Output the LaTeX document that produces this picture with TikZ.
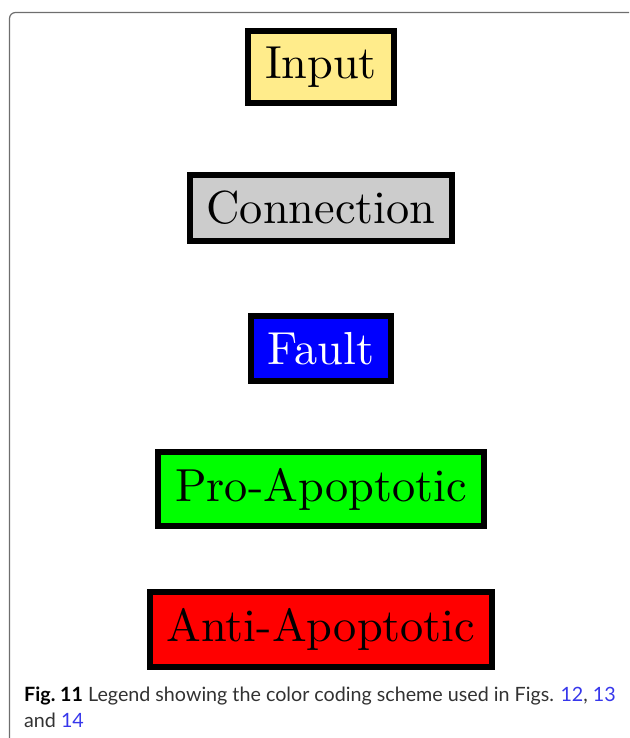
\documentclass[tikz,border=0pt]{standalone}
\usepackage{fontspec}
\newfontfamily\captionfont{Lato}
\newfontfamily\legendfont{lmroman10-regular}[Extension=.otf]
\definecolor{inputyellow}{RGB}{255,236,139}
\definecolor{connectiongray}{RGB}{204,204,204}
\definecolor{framegray}{RGB}{110,110,110}
\definecolor{captiontext}{RGB}{50,50,50}
\definecolor{linkblue}{RGB}{55,55,235}
\tikzset{
  legendbox/.style={draw=black, line width=6pt, inner xsep=17pt, inner ysep=16pt,
    font=\legendfont\fontsize{46.3}{55}\selectfont},
  captionline/.style={anchor=base west, inner sep=0pt,
    font=\captionfont\fontsize{19.7}{24}\selectfont, text=captiontext},
}
\begin{document}
\begin{tikzpicture}[x=1pt, y=-1pt]
  \clip (0,0) rectangle (629,738);
  \useasboundingbox (0,0) rectangle (629,738);
  % panel frame, running off the right and bottom edges
  \draw[framegray, line width=1.2pt, rounded corners=6pt]
    (660,12.5) -- (9.5,12.5) -- (9.5,760);
  % legend entries
  \node[legendbox, fill=inputyellow] (input) at (321,67) {Input};
  \node[legendbox, fill=connectiongray] (connection) at (321,208) {Connection};
  \node[legendbox, fill=blue, text=white] (fault) at (321,348.5) {Fault};
  \node[legendbox, fill=green] (pro) at (321,489) {Pro-Apoptotic};
  \node[legendbox, fill=red] (anti) at (321,629.5) {Anti-Apoptotic};
  % caption
  \node[captionline] (cap1) at (24,701)
    {{\bfseries\color{black}Fig.~11} Legend showing the color coding scheme used in Figs. \textcolor{linkblue}{12}, \textcolor{linkblue}{13}};
  \node[captionline] (cap2) at (24,727) {and \textcolor{linkblue}{14}};
\end{tikzpicture}
\end{document}
